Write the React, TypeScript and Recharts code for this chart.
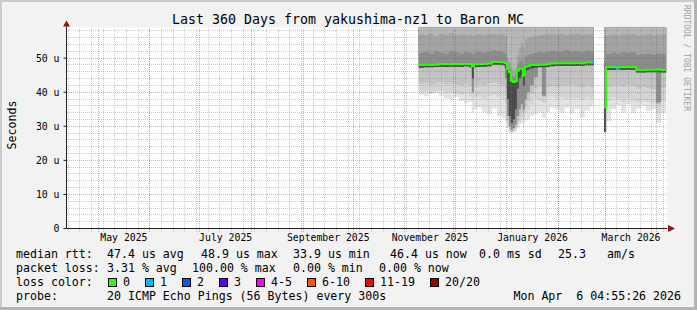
import React from 'react';
import {
  Area,
  CartesianGrid,
  ComposedChart,
  Line,
  ReferenceLine,
  XAxis,
  YAxis,
} from 'recharts';

const DAY = 86400000;
// left edge of the 360 day window
const WINDOW_START = Date.UTC(2025, 3, 12, 2, 0);
const WINDOW_DAYS = 360;
const dayOf = (y: number, m: number, d: number, h = 0) =>
  (Date.UTC(y, m - 1, d, h) - WINDOW_START) / DAY;

const Y_MAX = 59;
const yTicks = [0, 10, 20, 30, 40, 50];

const monthLabels = ['May 2025', 'July 2025', 'September 2025', 'November 2025', 'January 2026', 'March 2026'];
const monthLabelDays = [
  dayOf(2025, 5, 16, 12),
  dayOf(2025, 7, 16, 12),
  dayOf(2025, 9, 16),
  dayOf(2025, 11, 16),
  dayOf(2026, 1, 16, 12),
  dayOf(2026, 3, 16, 12),
];

// sample start (days since window start); null row = no data (gap)
const sampleDay = [
  211.2, 214.2, 217.2, 220.2, 223.2, 226.2, 229.2, 232.2, 235.2, 238.2,
  241.2, 243.0, 244.2, 246.0, 249.0, 252.0, 255.0, 258.0, 260.9, 262.8,
  264.0, 265.2, 266.4, 267.6, 268.8, 270.0, 271.2, 272.4, 273.6, 274.8,
  276.0, 277.8, 280.2, 282.6, 285.0, 287.4, 289.8, 292.8, 295.7, 298.7,
  301.7, 304.7, 307.7, 310.7, 313.7, 314.9, 316.1, 319.2,
  322.3, 323.5, 326.5, 329.5, 331.4, 332.5, 335.5, 338.5, 341.5, 344.5,
  347.5, 350.5, 353.5, 356.5, 359.5,
];

// median rtt (us)
const median = [
  48.0, 48.1, 48.0, 48.1, 48.3, 48.2, 48.2, 48.3, 48.2, 48.3,
  48.2, 47.6, 48.2, 48.2, 48.3, 48.4, 48.9, 48.9, 48.8, 48.6,
  46.9, 45.9, 43.4, 43.0, 43.2, 46.4, 46.9, 46.9, 44.9, 47.5,
  47.6, 48.0, 48.0, 48.1, 48.1, 48.2, 48.4, 48.5, 48.5, 48.6,
  48.5, 48.6, 48.5, 48.7, 48.7, 48.7, 48.7, null,
  35.5, 47.3, 47.3, 47.3, 47.3, 47.3, 47.4, 47.3, 46.5, 46.5,
  46.6, 46.6, 46.7, 46.5, 46.5,
];

// smoke boundaries below the median (us), from the median downwards
const darkLow = [
  47.2, 47.3, 47.3, 47.4, 47.5, 47.4, 47.5, 47.5, 47.4, 47.6,
  47.3, 44.0, 47.3, 47.4, 47.5, 47.6, 48.1, 48.1, 47.9, 47.0,
  38.0, 33.0, 31.0, 32.0, 35.0, 41.0, 44.0, 45.0, 42.0, 46.2,
  46.6, 47.0, 47.2, 47.3, 47.3, 47.4, 47.6, 47.7, 47.7, 47.8,
  47.7, 47.8, 47.7, 47.9, 47.9, 47.9, 47.9, null,
  28.3, 46.5, 46.5, 46.6, 46.6, 46.5, 46.6, 46.5, 45.8, 45.8,
  45.9, 45.9, 45.9, 45.8, 45.8,
];
const grayLow = [
  47.2, 47.3, 47.3, 47.4, 47.5, 47.4, 47.5, 47.5, 47.4, 47.6,
  47.3, 40.0, 47.3, 47.4, 47.5, 47.6, 48.1, 48.1, 47.9, 44.0,
  33.0, 30.0, 29.0, 29.5, 30.5, 33.0, 35.0, 36.5, 35.0, 38.0,
  40.0, 42.0, 44.5, 47.3, 39.0, 47.4, 47.6, 47.7, 47.7, 47.8,
  47.7, 47.8, 47.7, 47.9, 47.9, 47.9, 47.9, null,
  28.3, 46.5, 46.5, 46.6, 46.6, 46.5, 46.6, 46.5, 45.8, 45.8,
  45.9, 45.9, 37.0, 45.8, 45.8,
];
const midLow = [
  42.5, 42.8, 42.2, 42.6, 43.0, 42.4, 42.7, 42.3, 42.0, 42.5,
  41.8, 39.5, 42.0, 42.3, 42.0, 42.6, 42.8, 42.4, 42.0, 41.0,
  31.5, 29.0, 28.5, 28.8, 29.5, 31.0, 33.0, 34.5, 33.5, 36.0,
  37.5, 39.5, 41.0, 41.8, 38.5, 41.5, 42.0, 41.6, 42.0, 41.8,
  42.2, 41.7, 41.4, 41.9, 41.6, 41.6, 41.6, null,
  28.2, 41.5, 42.2, 42.0, 42.0, 41.6, 42.3, 41.8, 41.0, 41.5,
  41.2, 40.8, 36.5, 41.4, 41.4,
];
const lightLow = [
  40.0, 40.2, 39.8, 40.3, 40.5, 39.8, 40.1, 39.6, 39.2, 39.5,
  38.8, 37.5, 38.5, 38.8, 38.2, 39.0, 39.2, 38.6, 38.0, 37.0,
  30.5, 28.5, 28.2, 28.4, 29.0, 30.0, 31.5, 32.5, 32.0, 34.0,
  35.0, 36.5, 38.0, 37.6, 37.0, 38.5, 38.8, 38.2, 38.6, 38.0,
  38.4, 38.2, 37.8, 38.5, 38.0, 38.0, 38.0, null,
  28.1, 37.5, 38.5, 38.0, 38.0, 37.2, 38.2, 37.5, 37.0, 37.6,
  37.2, 36.8, 34.0, 37.4, 37.4,
];
const minRtt = [
  39.2, 38.8, 39.5, 39.8, 39.0, 38.2, 37.8, 38.6, 37.4, 36.8,
  37.2, 34.0, 35.0, 35.5, 34.2, 33.5, 35.2, 33.0, 32.5, 31.5,
  29.5, 28.0, 28.0, 28.2, 28.5, 29.5, 30.5, 31.0, 30.5, 31.5,
  32.0, 33.0, 33.5, 34.0, 32.5, 34.2, 35.5, 35.0, 34.0, 35.5,
  33.8, 35.2, 32.6, 34.6, 35.8, 35.8, 35.8, null,
  28.0, 31.5, 35.0, 36.2, 36.2, 34.0, 36.5, 33.8, 35.2, 36.0,
  34.5, 35.0, 31.0, 34.0, 34.0,
];

// smoke boundaries above the median (us)
const darkHigh = [
  51.5, 51.8, 51.2, 52.0, 51.6, 51.3, 52.2, 51.7, 51.4, 51.9,
  51.5, 51.0, 51.6, 51.8, 51.5, 52.0, 52.3, 52.0, 51.8, 51.2,
  48.0, 47.0, 45.0, 44.5, 45.0, 48.0, 49.0, 49.5, 48.0, 50.5,
  51.0, 51.2, 51.5, 51.8, 51.6, 51.9, 52.2, 51.8, 52.0, 52.3,
  51.9, 52.1, 51.8, 52.2, 52.0, 52.0, 52.0, null,
  49.0, 51.2, 51.6, 51.4, 51.4, 51.8, 51.5, 51.7, 51.0, 51.2,
  51.3, 51.0, 51.4, 51.2, 51.2,
];
const midHigh = [
  57.0, 56.8, 57.2, 56.6, 57.0, 56.9, 57.3, 56.7, 57.0, 56.8,
  57.1, 56.6, 56.9, 57.1, 56.8, 57.2, 57.0, 56.9, 57.2, 56.5,
  50.0, 49.0, 47.0, 46.5, 47.0, 51.0, 53.0, 54.5, 53.0, 55.5,
  56.0, 56.3, 56.5, 56.8, 56.8, 57.0, 57.2, 56.9, 57.1, 56.8,
  57.0, 57.2, 56.9, 57.1, 57.0, 57.0, 57.0, null,
  56.5, 56.8, 57.0, 56.7, 56.7, 57.2, 56.9, 57.0, 56.6, 56.8,
  57.0, 56.8, 56.9, 57.0, 57.0,
];

// median segments drawn with 1 lost ping
const medianLoss1 = [
  null, null, null, null, null, null, null, null, null, null,
  null, null, null, null, null, null, null, null, null, null,
  null, null, null, null, null, null, null, null, null, null,
  null, null, null, null, null, null, null, null, null, null,
  null, null, null, null, null, 48.7, 48.7, null,
  null, null, null, 46.8, 46.8, null, null, null, null, null,
  null, null, null, null, null,
];

const rows = sampleDay.map((day, i) => ({
  day,
  med: median[i],
  dd: darkLow[i],
  g: grayLow[i],
  e: midLow[i],
  f: lightLow[i],
  lo: minRtt[i],
  b: darkHigh[i],
  a: midHigh[i],
  loss1: medianLoss1[i],
}));

type Row = (typeof rows)[number];

// each layer fills from its boundary up to the top; later layers paint over
const smokeLayers: { key: keyof Row; fill: string }[] = [
  { key: 'lo', fill: '#e3e3e3' },
  { key: 'f', fill: '#d4d4d4' },
  { key: 'e', fill: '#c3c3c3' },
  { key: 'g', fill: '#8e8e8e' },
  { key: 'dd', fill: '#4a4a4a' },
  { key: 'med', fill: '#8c8c8c' },
  { key: 'b', fill: '#a3a3a3' },
  { key: 'a', fill: '#b7b7b7' },
];

const lossLabels = ['0', '1', '2', '3', '4-5', '6-10', '11-19', '20/20'];
const lossColors = ['#26ff00', '#00b8ff', '#0059ff', '#5e00ff', '#ff00ff', '#ff5500', '#ff0000', '#a10000'];

const rttStats: [number, string][] = [
  [16, 'median rtt:'],
  [107, '47.4 us avg'],
  [201, '48.9 us max'],
  [293, '33.9 us min'],
  [390, '46.4 us now'],
  [479, '0.0 ms sd'],
  [558, '25.3'],
  [607, 'am/s'],
];
const lossStats: [number, string][] = [
  [16, 'packet loss:'],
  [107, '3.31 % avg'],
  [192, '100.00 % max'],
  [293, '0.00 % min'],
  [379, '0.00 % now'],
];

// grid positions
const weekDays: number[] = [];
for (let t = Date.UTC(2025, 3, 13); t < WINDOW_START + WINDOW_DAYS * DAY; t += 7 * DAY) {
  const d = (t - WINDOW_START) / DAY;
  if (d > 0) weekDays.push(d);
}
const monthDays: number[] = [];
for (let m = 4; m < 16; m++) {
  monthDays.push((Date.UTC(2025, m, 1) - WINDOW_START) / DAY);
}
const minorY: number[] = [];
for (let v = 2; v < Y_MAX; v += 2) if (v % 10 !== 0) minorY.push(v);
const majorY = [10, 20, 30, 40, 50];

const MONO = "'DejaVu Sans Mono', monospace";
const GRID = 'rgba(120, 120, 120, 0.38)';
const MGRID = 'rgba(225, 40, 40, 0.42)';
const AXIS = '#222222';
const ARROW = '#8e1414';

function Overlay() {
  let lx = 108;
  const lossItems = lossLabels.map((label, i) => {
    const x = lx;
    lx += 15 + label.length * 7 + 15;
    return (
      <g key={label}>
        <rect x={x + 0.5} y={278.5} width={8} height={8} fill={lossColors[i]} stroke="#000" strokeWidth={1} />
        <text x={x + 15} y={286}>{label}</text>
      </g>
    );
  });
  return (
    <svg
      width={697}
      height={310}
      style={{ position: 'absolute', left: 0, top: 0, pointerEvents: 'none' }}
    >
      <rect x={0} y={0} width={697} height={2} fill="#cbcbcb" />
      <rect x={0} y={0} width={2} height={310} fill="#cbcbcb" />
      <rect x={694} y={0} width={3} height={310} fill="#b4b4b4" />
      <rect x={0} y={307} width={697} height={3} fill="#b4b4b4" />

      <line x1={66.5} y1={27.5} x2={66.5} y2={23} stroke={AXIS} />
      <polygon points="63,26.5 70,26.5 66.5,20.5" fill={ARROW} />
      <polygon points="668,225 668,232 675,228.5" fill={ARROW} />

      <text x={348} y={24} textAnchor="middle" fontFamily={MONO} fontSize={13.3}>
        Last 360 Days from yakushima-nz1 to Baron MC
      </text>
      <text
        x={16}
        y={125}
        textAnchor="middle"
        fontFamily={MONO}
        fontSize={11.6}
        transform="rotate(-90 16 125)"
      >
        Seconds
      </text>
      <text
        x={684}
        y={5}
        fontFamily={MONO}
        fontSize={8}
        fill="#a0a0a0"
        transform="rotate(90 684 5)"
      >
        RRDTOOL / TOBI OETIKER
      </text>

      <g fontFamily={MONO} fontSize={11.6} fill="#000">
        {rttStats.map(([x, s]) => (
          <text key={s} x={x} y={258}>{s}</text>
        ))}
        {lossStats.map(([x, s]) => (
          <text key={s} x={x} y={272}>{s}</text>
        ))}
        <text x={16} y={286}>loss color:</text>
        {lossItems}
        <text x={16} y={299.5}>probe:</text>
        <text x={107} y={299.5}>20 ICMP Echo Pings (56 Bytes) every 300s</text>
        <text x={681} y={299.5} textAnchor="end">{'Mon Apr \u00a06 04:55:26 2026'}</text>
      </g>
    </svg>
  );
}

export default function App() {
  return (
    <div
      style={{
        position: 'absolute',
        left: 0,
        top: 0,
        width: 697,
        height: 310,
        background: '#f2f2f2',
        overflow: 'hidden',
      }}
    >
      <ComposedChart
        width={697}
        height={310}
        data={rows}
        margin={{ top: 27.5, right: 30, bottom: 61.5, left: 6.5 }}
      >
        <CartesianGrid fill="#ffffff" horizontal={false} vertical={false} />
        <XAxis
          type="number"
          dataKey="day"
          scale="linear"
          domain={[0, WINDOW_DAYS]}
          allowDataOverflow
          ticks={monthLabelDays}
          interval={0}
          tickFormatter={(v: number) => monthLabels[monthLabelDays.indexOf(v)] ?? ''}
          tickLine={false}
          tickSize={4}
          tickMargin={2}
          height={20}
          axisLine={{ stroke: AXIS }}
          tick={{ fontFamily: MONO, fontSize: 9.8, fill: '#000' }}
        />
        <YAxis
          type="number"
          domain={[0, Y_MAX]}
          allowDataOverflow
          ticks={yTicks}
          interval={0}
          tickFormatter={(v: number) => (v === 0 ? '0' : `${v} u`)}
          width={60}
          tickSize={3}
          tickMargin={4}
          axisLine={{ stroke: AXIS }}
          tickLine={{ stroke: AXIS }}
          tick={{ fontFamily: MONO, fontSize: 9.8, fill: '#000' }}
        />

        {smokeLayers.map((l) => (
          <Area
            key={l.key}
            type="stepAfter"
            dataKey={(r: Row) => (r[l.key] == null ? null : [r[l.key] as number, Y_MAX])}
            fill={l.fill}
            fillOpacity={1}
            stroke="none"
            dot={false}
            activeDot={false}
            connectNulls={false}
            isAnimationActive={false}
          />
        ))}

        {weekDays.map((d) => (
          <ReferenceLine
            key={`w${d}`}
            segment={[{ x: d, y: -0.9 }, { x: d, y: Y_MAX }]}
            ifOverflow="visible"
            stroke={GRID}
            strokeDasharray="1 1"
            shapeRendering="crispEdges"
          />
        ))}
        {minorY.map((v) => (
          <ReferenceLine
            key={`h${v}`}
            y={v}
            stroke={GRID}
            strokeDasharray="1 1"
            shapeRendering="crispEdges"
          />
        ))}
        {monthDays.map((d) => (
          <ReferenceLine
            key={`m${d}`}
            segment={[{ x: d, y: -0.9 }, { x: d, y: Y_MAX }]}
            ifOverflow="visible"
            stroke={MGRID}
            strokeDasharray="1 1"
            shapeRendering="crispEdges"
          />
        ))}
        {majorY.map((v) => (
          <ReferenceLine
            key={`M${v}`}
            y={v}
            stroke={MGRID}
            strokeDasharray="1 1"
            shapeRendering="crispEdges"
          />
        ))}

        <Line
          type="stepAfter"
          dataKey="med"
          stroke="#26ff00"
          strokeWidth={2}
          dot={false}
          activeDot={false}
          connectNulls={false}
          isAnimationActive={false}
        />
        <Line
          type="stepAfter"
          dataKey="loss1"
          stroke="#00b8ff"
          strokeWidth={2}
          dot={false}
          activeDot={false}
          connectNulls={false}
          isAnimationActive={false}
        />
      </ComposedChart>
      <Overlay />
    </div>
  );
}
